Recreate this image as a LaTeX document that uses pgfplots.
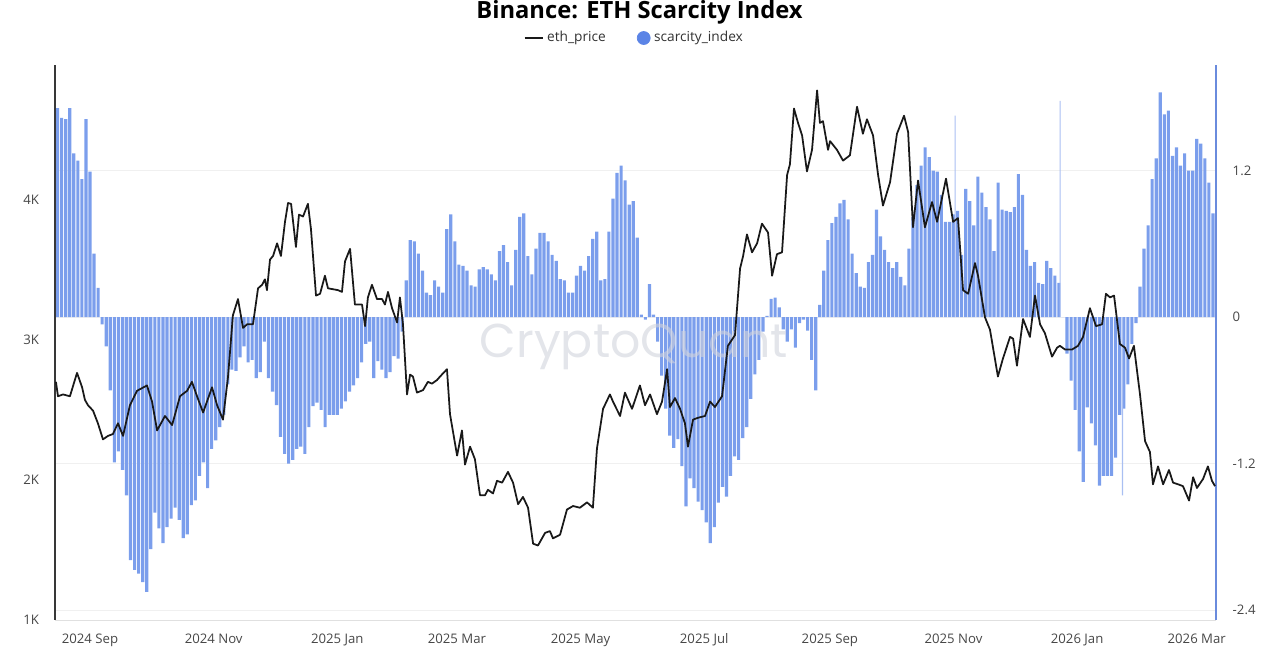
\documentclass[border=0pt]{standalone}
\usepackage{fontspec}
\setmainfont{Open Sans}
\newfontfamily\wmfont{Poppins}
\usepackage{pgfplots}
\pgfplotsset{compat=1.18}
\definecolor{scarblue}{HTML}{7B9EEC}
\definecolor{spikeblue}{HTML}{A9BFF2}
\definecolor{dotblue}{HTML}{5B84E6}
\definecolor{raxis}{HTML}{6A8BDD}
\definecolor{wmgray}{HTML}{D0D3DC}
\newcommand\labfont{\fontsize{7.5}{9}\selectfont}

% scarcity_index, one bar every second day (day 0 = 2024-09-01)
\pgfplotstableread{
day s
-16 1.71
-14 1.63
-12 1.62
-10 1.71
-8 1.34
-6 1.28
-4 1.13
-2 1.62
0 1.19
2 0.52
4 0.24
6 -0.06
8 -0.24
10 -0.6
12 -1.19
14 -1.1
16 -1.25
18 -1.46
20 -1.99
22 -2.07
24 -2.1
26 -2.17
28 -2.25
30 -1.9
32 -1.6
34 -1.73
36 -1.85
38 -1.72
40 -1.65
42 -1.56
44 -1.66
46 -1.81
48 -1.78
50 -1.54
52 -1.5
54 -1.3
56 -1.19
58 -1.4
60 -1.08
62 -1.01
64 -0.9
66 -0.8
68 -0.55
70 -0.43
72 -0.44
74 -0.33
76 -0.24
78 -0.37
80 -0.35
82 -0.5
84 -0.45
86 -0.2
88 -0.5
90 -0.61
92 -0.72
94 -0.98
96 -1.12
98 -1.2
100 -1.17
102 -1.08
104 -1.06
106 -1.12
108 -0.9
110 -0.73
112 -0.7
114 -0.76
116 -0.9
118 -0.8
120 -0.8
122 -0.8
124 -0.75
126 -0.69
128 -0.61
130 -0.56
132 -0.5
134 -0.37
136 -0.22
138 -0.2
140 -0.5
142 -0.36
144 -0.43
146 -0.5
148 -0.45
150 -0.32
152 -0.34
154 -0.12
156 0.3
158 0.63
160 0.62
162 0.52
164 0.38
166 0.2
168 0.18
170 0.3
172 0.25
174 0.2
176 0.72
178 0.84
180 0.62
182 0.43
184 0.42
186 0.38
188 0.26
190 0.25
192 0.39
194 0.41
196 0.39
198 0.35
200 0.3
202 0.54
204 0.59
206 0.45
208 0.26
210 0.55
212 0.82
214 0.85
216 0.5
218 0.35
220 0.56
222 0.69
224 0.69
226 0.62
228 0.51
230 0.46
232 0.31
234 0.3
236 0.2
238 0.2
240 0.34
242 0.42
244 0.38
246 0.5
248 0.64
250 0.7
252 0.3
254 0.31
256 0.7
258 0.97
260 1.18
262 1.24
264 1.12
266 0.92
268 0.95
270 0.65
272 0.02
274 -0.02
276 0.27
278 0.02
280 -0.2
282 -0.48
284 -0.75
286 -0.97
288 -1.07
290 -1.0
292 -1.22
294 -1.55
296 -1.32
298 -1.4
300 -1.51
302 -1.58
304 -1.68
306 -1.85
308 -1.72
310 -1.52
312 -1.39
314 -1.47
316 -1.3
318 -1.14
320 -1.17
322 -0.99
324 -0.9
326 -0.67
328 -0.47
330 -0.35
332 -0.12
334 0.01
336 0.15
338 0.16
340 0.08
342 -0.1
344 -0.2
346 -0.1
348 -0.25
350 -0.05
352 -0.02
354 -0.11
356 -0.35
358 -0.6
360 0.1
362 0.38
364 0.63
366 0.77
368 0.82
370 0.93
372 0.96
374 0.8
376 0.52
378 0.36
380 0.25
382 0.24
384 0.45
386 0.51
388 0.88
390 0.66
392 0.55
394 0.45
396 0.4
398 0.45
400 0.33
402 0.26
404 0.56
406 0.82
408 1.08
410 1.24
412 1.39
414 1.31
416 1.2
418 1.19
420 1.0
422 0.78
424 0.78
426 0.84
428 0.87
430 0.51
432 1.05
434 0.95
436 0.75
438 1.15
440 1.02
442 0.9
444 0.8
446 0.54
448 1.1
450 0.88
452 0.87
454 0.86
456 0.9
458 1.17
460 1.0
462 0.55
464 0.42
466 0.45
468 0.28
470 0.27
472 0.46
474 0.4
476 0.34
478 0.28
480 0.0
482 -0.3
484 -0.52
486 -0.76
488 -1.1
490 -1.35
492 -0.74
494 -0.87
496 -1.05
498 -1.38
500 -1.3
502 -1.3
504 -1.3
506 -1.15
508 -0.8
510 -0.75
512 -0.55
514 -0.22
516 -0.05
518 0.25
520 0.56
522 0.75
524 1.13
526 1.3
528 1.84
530 1.66
532 1.69
534 1.32
536 1.39
538 1.24
540 1.34
542 1.2
544 1.2
546 1.46
548 1.42
550 1.3
552 1.1
554 0.85
}\scarcity

% single-day outliers, drawn as thin bars
\pgfplotstableread{
day s
426.8 1.65
478.6 1.77
509.4 -1.46
}\spikes

% eth_price in USD
\pgfplotstableread{
day p
-16.8 2701
-15.8 2598
-13.3 2611
-9.9 2598
-6.4 2765
-3.9 2662
-2.5 2572
-1.0 2534
1.5 2495
3.9 2405
6.4 2290
8.9 2315
11.3 2328
13.8 2405
16.3 2315
19.7 2534
23.2 2637
28.1 2675
30.6 2560
33.1 2354
37.0 2457
40.5 2392
44.4 2598
47.9 2637
50.3 2701
52.8 2598
55.8 2482
60.2 2662
62.7 2534
65.6 2431
68.1 2739
70.5 3176
73.0 3292
75.5 3086
77.5 3112
80.4 3112
82.9 3369
84.9 3394
86.3 3433
87.3 3356
88.8 3574
90.3 3600
92.3 3690
94.2 3600
96.2 3844
97.7 3978
99.2 3972
101.6 3664
103.1 3895
105.1 3882
107.5 3972
109.0 3793
111.5 3317
113.5 3330
115.9 3459
117.4 3369
122.3 3356
124.3 3343
125.8 3561
128.3 3651
130.7 3253
134.2 3253
135.7 3099
137.1 3304
139.1 3394
141.6 3292
144.1 3292
145.5 3253
147.0 3343
149.0 3227
151.5 3125
152.9 3304
154.4 3112
156.4 2611
157.9 2752
159.3 2739
161.3 2624
164.3 2642
166.7 2701
168.7 2688
171.2 2714
172.7 2739
176.1 2791
177.6 2470
181.1 2174
183.5 2354
185.0 2110
187.5 2238
189.9 2148
192.4 1891
194.9 1891
196.3 1930
198.8 1904
200.8 1994
203.3 1981
206.2 2058
208.7 1981
211.2 1827
213.6 1879
216.1 1802
218.6 1545
221.0 1532
224.5 1622
226.9 1635
228.4 1583
231.9 1609
235.3 1789
238.3 1814
241.7 1802
245.2 1840
248.1 1802
250.1 2225
253.1 2508
256.5 2611
258.0 2560
261.5 2457
263.9 2624
267.4 2508
271.3 2675
273.8 2534
276.3 2611
279.7 2470
282.2 2560
284.7 2791
286.1 2521
288.6 2585
291.1 2508
293.5 2405
295.0 2238
297.5 2431
299.9 2444
303.4 2457
305.9 2560
308.3 2521
311.8 2598
314.7 2958
318.2 3035
320.7 3510
322.2 3600
324.1 3754
326.6 3626
329.1 3690
331.5 3831
334.5 3767
336.5 3459
338.9 3613
341.4 3626
343.9 4178
345.3 4255
347.3 4653
349.3 4550
351.3 4461
353.7 4204
356.2 4358
358.7 4782
360.1 4550
361.6 4563
364.1 4358
365.1 4420
368.5 4358
371.5 4281
374.9 4319
378.4 4666
381.3 4473
383.3 4576
386.3 4461
388.8 4178
391.2 3960
394.7 4127
398.1 4473
401.6 4602
403.6 4486
406.0 3805
408.5 4139
411.9 3805
415.4 3985
417.9 3844
422.3 4152
425.8 3844
428.2 3870
430.7 3356
433.2 3330
436.6 3549
438.1 3459
441.5 3163
444.0 3073
447.9 2739
450.4 2868
453.9 3022
455.4 3009
457.3 2816
460.3 3150
463.7 3022
466.2 3317
468.7 3112
471.1 3048
474.6 2881
477.1 2945
478.5 2958
481.0 2932
484.5 2932
487.4 2958
489.9 3022
493.3 3227
496.3 3099
499.3 3112
501.2 3330
503.2 3304
505.2 3317
508.1 2971
510.6 2945
512.6 2868
515.0 2958
518.0 2611
520.5 2277
522.9 2200
524.4 1969
526.9 2097
529.4 1969
532.3 2071
534.3 1981
536.8 1969
539.2 1956
542.2 1853
544.2 2020
546.1 1943
549.1 2007
551.5 2097
553.5 1994
555.0 1956
}\ethprice

\begin{document}
\begin{tikzpicture}
\path[use as bounding box] (0,0) rectangle (256mm,130mm);

\node[font=\fontsize{13.5}{15}\selectfont\bfseries, anchor=base] at (127.9mm,126.2mm)
  {Binance: ETH Scarcity Index};

% right axis: scarcity index bars, also carries the date axis
\begin{axis}[
  at={(11mm,6mm)}, anchor=south west, scale only axis,
  width=232.2mm, height=111mm,
  xmin=-17.27, xmax=555.5, ymin=-2.48, ymax=2.064,
  axis x line*=bottom, axis y line*=right,
  axis line style={-},
  x axis line style={black!12},
  y axis line style={raxis, line width=0.8pt},
  xtick={0,61,122,181,242,303,365,426,487,546},
  xticklabels={2024 Sep,2024 Nov,2025 Jan,2025 Mar,2025 May,2025 Jul,2025 Sep,2025 Nov,2026 Jan,2026 Mar},
  ytick={-2.4,-1.2,0,1.2}, yticklabels={-2.4,-1.2,0,1.2},
  ymajorgrids, grid style={black!6},
  major tick length=0pt, tick style={draw=none},
  tick label style={font=\labfont, text=black!72},
  xticklabel style={yshift=-1.5mm},
  yticklabel style={xshift=2.1mm},
]
\addplot[ybar, bar width=1.55, fill=scarblue, draw=none] table[x=day, y=s] {\scarcity};
\addplot[ybar, bar width=0.6, fill=spikeblue, draw=none] table[x=day, y=s] {\spikes};
\end{axis}

\node[font=\wmfont\fontsize{27}{27}\selectfont, text=wmgray, opacity=0.6, anchor=base]
  at (126.8mm,58.4mm) {CryptoQuant};

% left axis: ETH price
\begin{axis}[
  at={(11mm,6mm)}, anchor=south west, scale only axis,
  width=232.2mm, height=111mm,
  xmin=-17.27, xmax=555.5, ymin=1000, ymax=4964,
  axis x line=none, axis y line*=left,
  axis line style={-},
  y axis line style={black!78, line width=1.1pt},
  ytick={1000,2000,3000,4000}, yticklabels={1K,2K,3K,4K},
  major tick length=0pt, tick style={draw=none},
  tick label style={font=\labfont, text=black!72},
  yticklabel style={xshift=-1.95mm},
  legend columns=-1,
  legend style={draw=none, fill=none, font=\fontsize{7.8}{9}\selectfont, text=black!80,
    at={(axis description cs:0.4995,1.0486)}, anchor=center,
    /tikz/every even column/.append style={column sep=5.5mm}},
]
\addplot[black!90, line width=1pt, line join=round,
  legend image code/.code={\draw[black!90, line width=1.2pt] (0mm,0mm) -- (3.6mm,0mm);}]
  table[x=day, y=p] {\ethprice};
\addlegendentry{eth\_price}
\addlegendimage{legend image code/.code={\fill[dotblue] (1.3mm,0mm) circle (1.3mm);}}
\addlegendentry{scarcity\_index}
\end{axis}
\end{tikzpicture}
\end{document}
